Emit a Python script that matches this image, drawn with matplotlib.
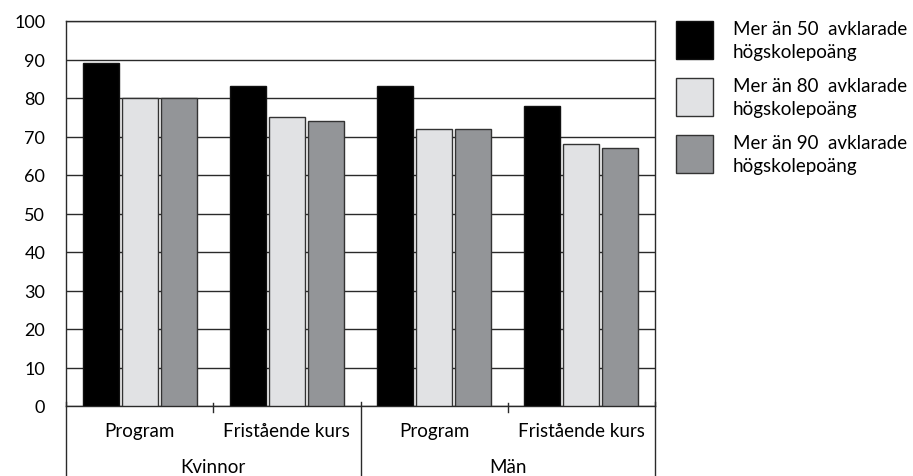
import matplotlib
matplotlib.use("Agg")
import matplotlib.pyplot as plt
from matplotlib.patches import Rectangle
import numpy as np

plt.rcParams['font.family'] = ['Lato', 'DejaVu Sans']

categories = ["Program", "Fristående kurs", "Program", "Fristående kurs"]
groups = ["Kvinnor", "Män"]
series_labels = ["Mer än 50  avklarade\nhögskolepoäng",
                 "Mer än 80  avklarade\nhögskolepoäng",
                 "Mer än 90  avklarade\nhögskolepoäng"]
mer50 = [89, 83, 83, 78]
mer80 = [80, 75, 72, 68]
mer90 = [80, 74, 72, 67]
yticks = [0, 10, 20, 30, 40, 50, 60, 70, 80, 90, 100]

colors = ["#000000", "#e1e2e4", "#939598"]
edges = ["#111111", "#333333", "#333333"]

fig = plt.figure(figsize=(9.13, 4.77), dpi=100)
ax = fig.add_axes([66/913, 1-407/477, (655-66)/913, (407-22)/477])

x = np.arange(len(categories))
width = 0.245
spacing = 0.265
for i, vals in enumerate([mer50, mer80, mer90]):
    ax.bar(x + (i-1)*spacing, vals, width, color=colors[i], edgecolor=edges[i],
           linewidth=1.0, zorder=3)

ax.set_xlim(-0.5, len(categories)-0.5)
ax.set_ylim(0, 100)
ax.set_yticks(yticks)
ax.set_yticklabels([str(t) for t in yticks], fontsize=13)
ax.tick_params(axis='y', length=0, pad=15)
ax.set_xticks([])
ax.yaxis.grid(True, color='#2a2a2a', linewidth=1.0, zorder=0)
ax.set_axisbelow(True)
for s in ['left', 'right', 'top', 'bottom']:
    ax.spines[s].set_color('#2a2a2a')
    ax.spines[s].set_linewidth(1.0)

trans = ax.get_xaxis_transform()
bottom = -(477-407)/385
# major separators
for xb in [-0.5, 1.5, 3.5]:
    ax.plot([xb, xb], [0.01, bottom], color='#2a2a2a', lw=1.0, transform=trans, clip_on=False)
# minor separators
for xb in [0.5, 2.5]:
    ax.plot([xb, xb], [0.008, -0.016], color='#2a2a2a', lw=1.0, transform=trans, clip_on=False)

for xi, c in zip(x, categories):
    ax.text(xi, -(432-407)/385, c, transform=trans, ha='center', va='center', fontsize=13.5)
for gi, g in enumerate(groups):
    ax.text(gi*2 + 0.5, -(468-407)/385, g, transform=trans, ha='center', va='center', fontsize=13.5)

# legend
for i, lab in enumerate(series_labels):
    y0 = 22 + i*57
    fig.patches.append(Rectangle((676/913, 1-(y0+38)/477), 37/913, 38/477,
                                 transform=fig.transFigure, facecolor=colors[i],
                                 edgecolor=edges[i], linewidth=1.0))
    fig.text(733/913, 1-(y0-1)/477, lab, ha='left', va='top', fontsize=13.5,
             linespacing=1.4)

fig.savefig("out.png", dpi=100)
